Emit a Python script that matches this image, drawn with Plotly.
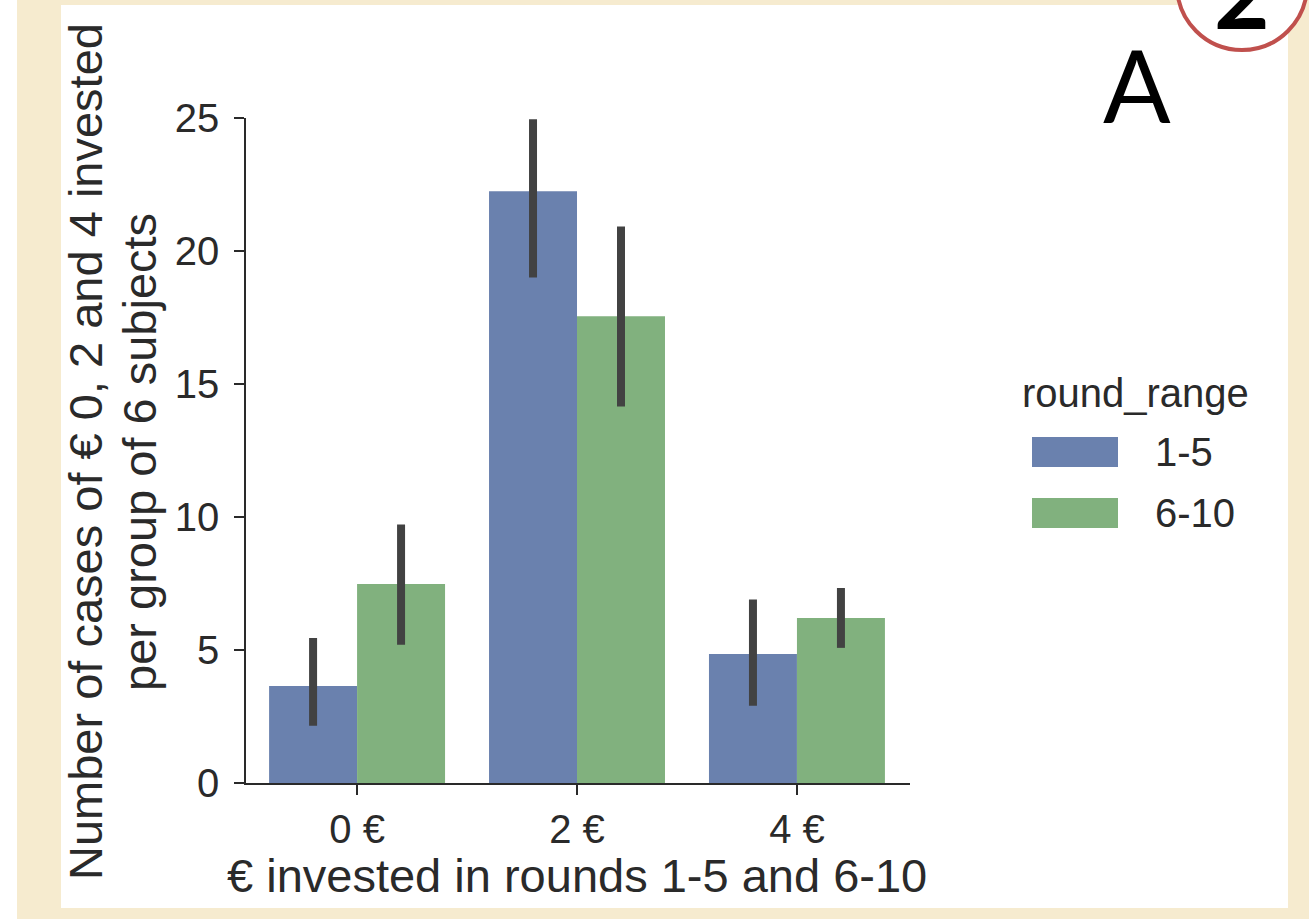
import plotly.graph_objects as go

# ---- data -------------------------------------------------------------
categories = ["0 €", "2 €", "4 €"]
series_names = ["1-5", "6-10"]

mean_rounds_1_5 = [3.65, 22.25, 4.85]
ci_low_1_5 = [2.15, 19.0, 2.9]
ci_high_1_5 = [5.45, 24.95, 6.9]

mean_rounds_6_10 = [7.48, 17.55, 6.2]
ci_low_6_10 = [5.2, 14.15, 5.08]
ci_high_6_10 = [9.72, 20.92, 7.33]

y_ticks = [0, 5, 10, 15, 20, 25]

y_title_lines = ["Number of cases of € 0, 2 and 4 invested", "per group of 6 subjects"]
x_title = "€ invested in rounds 1-5 and 6-10"
legend_title = "round_range"

# ---- styling ----------------------------------------------------------
W, H = 1309, 919
COLORS = ["#6a81ae", "#81b17e"]
ERR = "#424242"
TXT = "#2a2a2a"
PAPER = "#f6ebcf"
FONT = "Liberation Sans, Arial, sans-serif"
FS = 40        # tick labels and legend
FS_TITLE = 47  # axis titles


def px(x):
    return x / W


def py(y):
    return 1 - y / H


means = [mean_rounds_1_5, mean_rounds_6_10]
lows = [ci_low_1_5, ci_low_6_10]
highs = [ci_high_1_5, ci_high_6_10]

fig = go.Figure()
for name, m, lo, hi, col in zip(series_names, means, lows, highs, COLORS):
    fig.add_trace(go.Bar(
        name=name,
        x=categories,
        y=m,
        marker=dict(color=col, line=dict(width=0)),
        error_y=dict(
            type="data",
            symmetric=False,
            array=[h - v for h, v in zip(hi, m)],
            arrayminus=[v - l for v, l in zip(m, lo)],
            color=ERR,
            thickness=8,
            width=0,
        ),
        showlegend=False,
    ))

shapes = [
    # white left strip and white chart panel over the parchment
    dict(type="rect", xref="paper", yref="paper", x0=0, x1=px(17), y0=0, y1=1,
         fillcolor="white", line=dict(width=0), layer="below"),
    dict(type="rect", xref="paper", yref="paper", x0=px(61), x1=px(1288),
         y0=py(908), y1=py(5), fillcolor="white", line=dict(width=0), layer="below"),
    # red circled badge in the corner
    dict(type="circle", xref="paper", yref="paper", x0=px(1177), x1=px(1307),
         y0=py(50), y1=py(-80), fillcolor="white",
         line=dict(color="#c0504d", width=4), layer="above"),
]

# legend drawn as patches + labels
legend_rows_y = [452, 513]
for name, col, yc in zip(series_names, COLORS, legend_rows_y):
    shapes.append(dict(type="rect", xref="paper", yref="paper",
                       x0=px(1032), x1=px(1118), y0=py(yc + 15), y1=py(yc - 15),
                       fillcolor=col, line=dict(width=0)))

annotations = []
# two-line rotated y-axis title
for line, xc in zip(y_title_lines, [86, 140]):
    annotations.append(dict(text=line, xref="paper", yref="paper", x=px(xc), y=py(452),
                            textangle=-90, showarrow=False,
                            font=dict(family=FONT, size=FS_TITLE, color=TXT),
                            xanchor="center", yanchor="middle"))
annotations += [
    dict(text=x_title, xref="paper", yref="paper", x=px(577), y=py(875),
         showarrow=False, font=dict(family=FONT, size=FS_TITLE, color=TXT),
         xanchor="center", yanchor="middle"),
    dict(text=legend_title, xref="paper", yref="paper", x=px(1135), y=py(393),
         showarrow=False, font=dict(family=FONT, size=FS, color=TXT),
         xanchor="center", yanchor="middle"),
    dict(text="A", xref="paper", yref="paper", x=px(1137), y=py(84),
         showarrow=False, font=dict(family="Lato, Open Sans, sans-serif", size=100, color="black"),
         xanchor="center", yanchor="middle"),
    dict(text="<b>2</b>", xref="paper", yref="paper", x=px(1242), y=py(-8),
         showarrow=False, font=dict(family="Lato, Open Sans, sans-serif", size=96, color="black"),
         xanchor="center", yanchor="middle"),
]
for name, yc in zip(series_names, legend_rows_y):
    annotations.append(dict(text=name, xref="paper", yref="paper", x=px(1153), y=py(yc),
                            showarrow=False, font=dict(family=FONT, size=FS, color=TXT),
                            xanchor="left", yanchor="middle"))

fig.update_layout(
    width=W, height=H,
    margin=dict(l=0, r=0, t=0, b=0, autoexpand=False),
    paper_bgcolor=PAPER,
    plot_bgcolor="rgba(0,0,0,0)",
    barmode="group",
    bargap=0.2,
    bargroupgap=0,
    font=dict(family=FONT, size=FS, color=TXT),
    shapes=shapes,
    annotations=annotations,
    xaxis=dict(
        domain=[px(246), px(910)],
        range=[-0.505, 2.514],
        type="category",
        showline=True, linecolor=TXT, linewidth=1.5,
        ticks="outside", ticklen=10, tickwidth=1.5, tickcolor=TXT,
        tickfont=dict(family=FONT, size=FS, color=TXT),
        showgrid=False, zeroline=False,
    ),
    yaxis=dict(
        domain=[py(783), py(118)],
        range=[0, 25],
        tickvals=y_ticks,
        showline=True, linecolor=TXT, linewidth=1.5,
        ticks="outside", ticklen=10, tickwidth=1.5, tickcolor=TXT,
        tickfont=dict(family=FONT, size=FS, color=TXT),
        ticklabelstandoff=7,
        showgrid=False, zeroline=False,
    ),
)

fig.write_html("out.html")
